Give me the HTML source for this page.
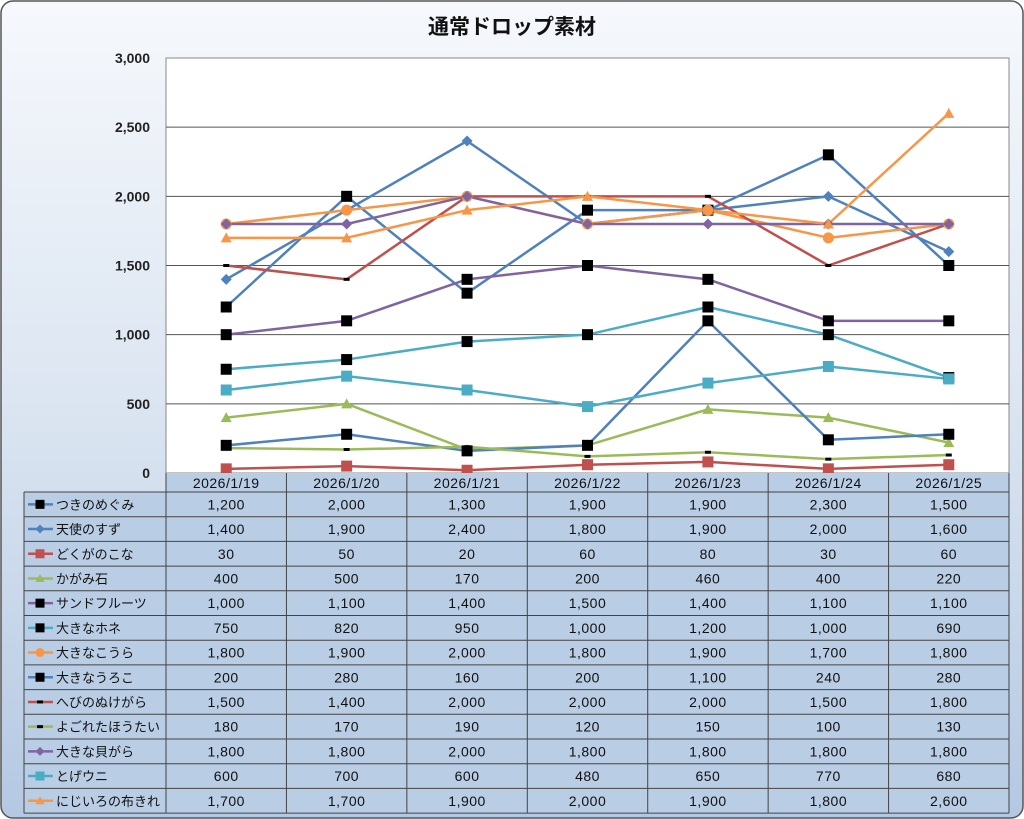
<!DOCTYPE html>
<html><head><meta charset="utf-8"><style>
html,body{margin:0;padding:0;width:1024px;height:819px;overflow:hidden;background:#fff}
svg text{font-family:"Liberation Sans","Noto Sans CJK JP",sans-serif}
</style></head><body>
<svg id="s" width="1024" height="819" xmlns="http://www.w3.org/2000/svg">
<defs><linearGradient id="bg" x1="0" y1="0" x2="0" y2="1">
<stop offset="0" stop-color="#f6f8fc"/><stop offset="0.5" stop-color="#dbe5f1"/><stop offset="1" stop-color="#b4c8e2"/></linearGradient></defs>
<rect x="1" y="1" width="1022" height="817" rx="12" fill="url(#bg)" stroke="#555" stroke-width="1.5"/>
<text x="512" y="34" text-anchor="middle" font-size="21" font-weight="bold" fill="#111">通常ドロップ素材</text>
<rect x="166" y="58" width="843" height="415" fill="#fff" stroke="#888"/>
</svg>
<script>
const s=document.getElementById('s');const NS='http://www.w3.org/2000/svg';
function el(t,a,txt){const e=document.createElementNS(NS,t);for(const k in a)e.setAttribute(k,a[k]);if(txt!=null)e.textContent=txt;s.appendChild(e);return e;}
const Y=v=>473-v*415/3000;const cw=843/7;const X=i=>166+cw*(i+0.5);
for(let v=500;v<=2500;v+=500)el('line',{x1:166,x2:1009,y1:Y(v),y2:Y(v),stroke:'#555','stroke-width':1});
for(let v=0;v<=3000;v+=500)el('text',{x:150,y:Y(v)+5,'text-anchor':'end','font-size':14,'font-weight':'bold',fill:'#222'},v.toLocaleString('en-US'));
const B='#4f81bd',R='#c0504d',G='#9bbb59',P='#8064a2',T='#4bacc6',O='#f79646',K='#000';
const S=[
['つきのめぐみ',B,'sq',K,[1200,2000,1300,1900,1900,2300,1500]],
['天使のすず',B,'di',B,[1400,1900,2400,1800,1900,2000,1600]],
['どくがのこな',R,'sq',R,[30,50,20,60,80,30,60]],
['かがみ石',G,'tr',G,[400,500,170,200,460,400,220]],
['サンドフルーツ',P,'sq',K,[1000,1100,1400,1500,1400,1100,1100]],
['大きなホネ',T,'sq',K,[750,820,950,1000,1200,1000,690]],
['大きなこうら',O,'ci',O,[1800,1900,2000,1800,1900,1700,1800]],
['大きなうろこ',B,'sq',K,[200,280,160,200,1100,240,280]],
['へびのぬけがら',R,'da',K,[1500,1400,2000,2000,2000,1500,1800]],
['よごれたほうたい',G,'da',K,[180,170,190,120,150,100,130]],
['大きな貝がら',P,'di',P,[1800,1800,2000,1800,1800,1800,1800]],
['とげウニ',T,'sq',T,[600,700,600,480,650,770,680]],
['にじいろの布きれ',O,'tr',O,[1700,1700,1900,2000,1900,1800,2600]]];
function mk(t,x,y,c,sz){sz=sz||5.5;
 if(t=='sq')el('rect',{x:x-sz,y:y-sz,width:2*sz,height:2*sz,fill:c});
 else if(t=='di')el('path',{d:`M${x} ${y-sz} L${x+sz} ${y} L${x} ${y+sz} L${x-sz} ${y}Z`,fill:c});
 else if(t=='tr')el('path',{d:`M${x} ${y-sz} L${x+sz} ${y+sz-1} L${x-sz} ${y+sz-1}Z`,fill:c});
 else if(t=='ci')el('circle',{cx:x,cy:y,r:sz,fill:c});
 else if(t=='da')el('rect',{x:x-3,y:y-1.5,width:6,height:3,fill:c});}
for(const [n,c,m,mc,d] of S){el('polyline',{points:d.map((v,i)=>X(i)+','+Y(v)).join(' '),fill:'none',stroke:c,'stroke-width':2.5,'stroke-linejoin':'round'});}
for(const [n,c,m,mc,d] of S){d.forEach((v,i)=>mk(m,X(i),Y(v),mc));}
const rh=24.7,t0=492;
el('rect',{x:166,y:473,width:843,height:19,fill:'#b9cde5'});
el('rect',{x:24,y:t0,width:985,height:rh*13,fill:'#b9cde5'});
const dates=['2026/1/19','2026/1/20','2026/1/21','2026/1/22','2026/1/23','2026/1/24','2026/1/25'];
dates.forEach((d,i)=>el('text',{x:X(i),y:488,'text-anchor':'middle','font-size':14,fill:'#111','letter-spacing':'0.5'},d));
for(let k=0;k<=7;k++)el('line',{x1:166+cw*k,x2:166+cw*k,y1:473,y2:t0+rh*13,stroke:'#444'});
el('line',{x1:24,x2:24,y1:t0,y2:t0+rh*13,stroke:'#444'});
for(let r=0;r<=13;r++)el('line',{x1:24,x2:1009,y1:t0+rh*r,y2:t0+rh*r,stroke:'#444'});
S.forEach(([n,c,m,mc,d],r)=>{const cy=t0+rh*r+rh/2;
 el('line',{x1:28,x2:53,y1:cy,y2:cy,stroke:c,'stroke-width':2.5});mk(m,40,cy,mc,4.5);
 el('text',{x:56,y:cy+5,'font-size':13,fill:'#111'},n);
 d.forEach((v,i)=>el('text',{x:X(i),y:cy+5,'text-anchor':'middle','font-size':14,fill:'#111','letter-spacing':'0.5'},v.toLocaleString('en-US')));});
</script>
</body></html>
